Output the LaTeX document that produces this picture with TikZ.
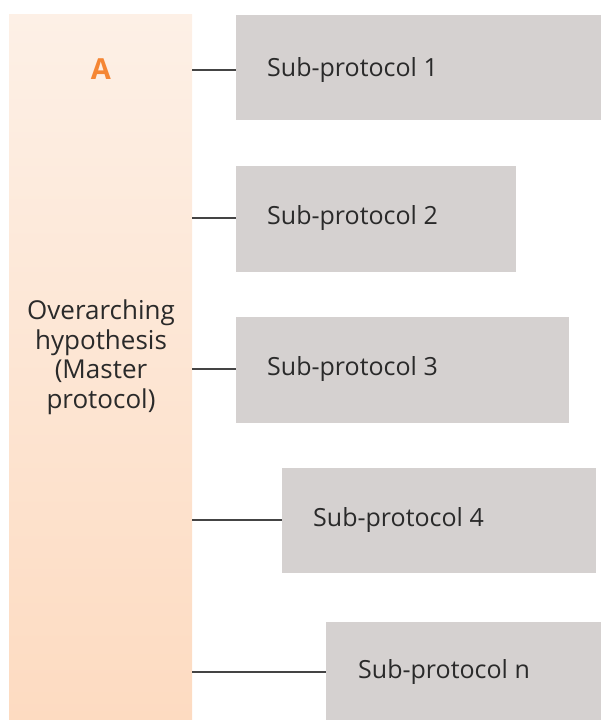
\documentclass[tikz,border=0pt]{standalone}
\usepackage{fontspec}
\setmainfont{Open Sans}
\definecolor{boxgray}{HTML}{D5D1D0}
\definecolor{bartop}{HTML}{FDF0E6}
\definecolor{barbot}{HTML}{FDDBC1}
\definecolor{orangeA}{HTML}{F58634}
\definecolor{txt}{HTML}{2A2A2A}
\definecolor{linec}{HTML}{444444}
\begin{document}
\begin{tikzpicture}[x=1pt,y=-1pt,
  subbox/.style={fill=boxgray,draw=none,inner sep=0pt},
  subtext/.style={font=\fontsize{25}{30}\selectfont,text=txt,anchor=west,inner sep=0pt},
  conn/.style={draw=linec,line width=1.2pt}]
\useasboundingbox (0,0) rectangle (601,720);
% master bar
\shade[top color=bartop,bottom color=barbot] (9,14) rectangle (192,720);
\coordinate (barR1) at (192,70);
\coordinate (barR2) at (192,218);
\coordinate (barR3) at (192,369);
\coordinate (barR4) at (192,520);
\coordinate (barR5) at (192,672);
\node[font=\bfseries\fontsize{29}{33}\selectfont,text=orangeA] (A) at (101,69) {A};
\node[font=\fontsize{26}{29.5}\selectfont,text=txt,align=center] (master) at (101,357) {Overarching\\hypothesis\\(Master\\protocol)};
% boxes
\fill[boxgray] (236,15) rectangle (601,120);
\coordinate (b1) at (236,70);
\node[subtext] (t1) at (267,70) {Sub-protocol 1};
\fill[boxgray] (236,166) rectangle (516,272);
\coordinate (b2) at (236,218);
\node[subtext] (t2) at (267,218) {Sub-protocol 2};
\fill[boxgray] (236,317) rectangle (569,423);
\coordinate (b3) at (236,369);
\node[subtext] (t3) at (267,369) {Sub-protocol 3};
\fill[boxgray] (282,468) rectangle (596,573);
\coordinate (b4) at (282,520);
\node[subtext] (t4) at (313,520) {Sub-protocol 4};
\fill[boxgray] (326,622) rectangle (601,720);
\coordinate (b5) at (326,672);
\node[subtext] (t5) at (358,672) {Sub-protocol n};
% connectors
\draw[conn] (barR1) -- (b1);
\draw[conn] (barR2) -- (b2);
\draw[conn] (barR3) -- (b3);
\draw[conn] (barR4) -- (b4);
\draw[conn] (barR5) -- (b5);
\end{tikzpicture}
\end{document}
